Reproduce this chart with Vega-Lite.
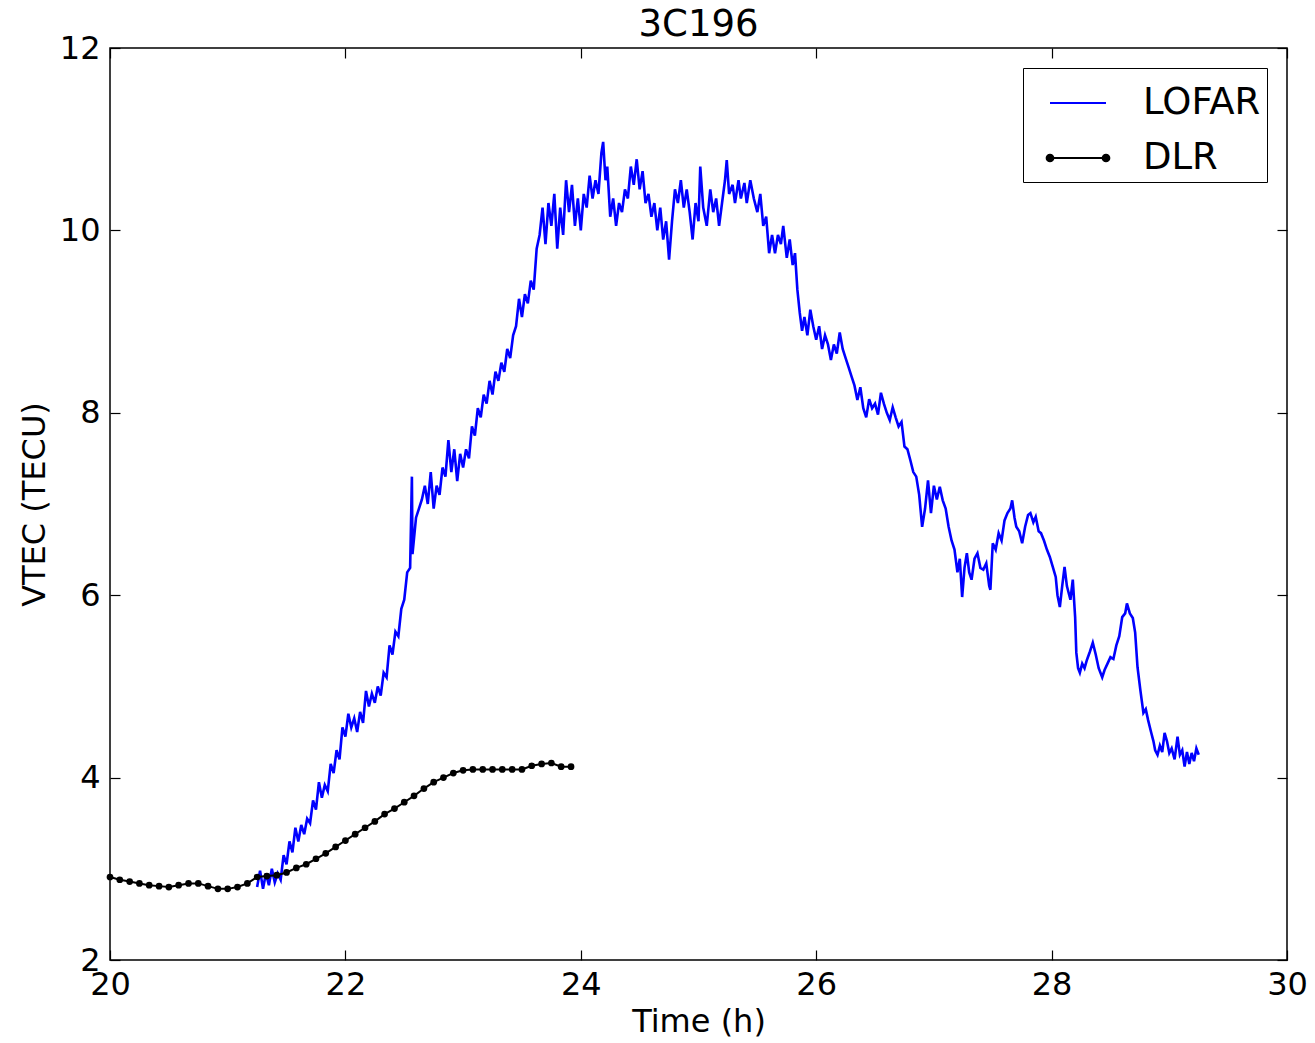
{
  "$schema": "https://vega.github.io/schema/vega-lite/v6.json",
  "width": 1177,
  "height": 912,
  "autosize": {"type": "none"},
  "padding": {"left": 110, "top": 48, "right": 28, "bottom": 83},
  "background": "white",
  "title": {"text": "3C196", "fontSize": 37, "fontWeight": "normal", "font": "DejaVu Sans", "color": "black", "offset": -12},
  "config": {
    "font": "DejaVu Sans",
    "view": {"stroke": "black", "strokeWidth": 1.5},
    "axis": {"domain": false, "grid": false, "tickColor": "black", "tickWidth": 1.2, "labelColor": "black", "titleColor": "black", "labelFontSize": 32, "titleFontSize": 32, "titleFontWeight": "normal", "labelFont": "DejaVu Sans", "titleFont": "DejaVu Sans", "labelFlush": false, "labelOverlap": false},
    "legend": {"orient": "top-right", "offset": 20, "strokeColor": "black", "fillColor": "white", "padding": 6, "symbolType": "stroke", "symbolSize": 3136, "symbolStrokeWidth": 2, "labelFontSize": 37, "labelFont": "DejaVu Sans", "labelColor": "black", "labelOffset": 36, "rowPadding": 8, "symbolOffset": 20, "cornerRadius": 0}
  },
  "datasets": {
    "dlr": [
      {"t": 20.000, "v": 2.91}, {"t": 20.083, "v": 2.88}, {"t": 20.167, "v": 2.86}, {"t": 20.250, "v": 2.84},
      {"t": 20.333, "v": 2.82}, {"t": 20.417, "v": 2.81}, {"t": 20.500, "v": 2.80}, {"t": 20.583, "v": 2.82},
      {"t": 20.667, "v": 2.84}, {"t": 20.750, "v": 2.84}, {"t": 20.833, "v": 2.81}, {"t": 20.917, "v": 2.78},
      {"t": 21.000, "v": 2.78}, {"t": 21.083, "v": 2.80}, {"t": 21.167, "v": 2.84}, {"t": 21.250, "v": 2.91},
      {"t": 21.333, "v": 2.92}, {"t": 21.417, "v": 2.93}, {"t": 21.500, "v": 2.96}, {"t": 21.583, "v": 3.01},
      {"t": 21.667, "v": 3.05}, {"t": 21.750, "v": 3.11}, {"t": 21.833, "v": 3.17}, {"t": 21.917, "v": 3.24},
      {"t": 22.000, "v": 3.31}, {"t": 22.083, "v": 3.38}, {"t": 22.167, "v": 3.45}, {"t": 22.250, "v": 3.52},
      {"t": 22.333, "v": 3.60}, {"t": 22.417, "v": 3.66}, {"t": 22.500, "v": 3.73}, {"t": 22.583, "v": 3.80},
      {"t": 22.667, "v": 3.88}, {"t": 22.750, "v": 3.95}, {"t": 22.833, "v": 4.00}, {"t": 22.917, "v": 4.05},
      {"t": 23.000, "v": 4.08}, {"t": 23.083, "v": 4.09}, {"t": 23.167, "v": 4.09}, {"t": 23.250, "v": 4.09},
      {"t": 23.333, "v": 4.09}, {"t": 23.417, "v": 4.09}, {"t": 23.500, "v": 4.09}, {"t": 23.583, "v": 4.13},
      {"t": 23.667, "v": 4.15}, {"t": 23.750, "v": 4.16}, {"t": 23.833, "v": 4.12}, {"t": 23.917, "v": 4.12}
    ],
    "lofar": [
      {"t":21.25,"v":2.80},{"t":21.275,"v":2.98},{"t":21.30,"v":2.78},{"t":21.325,"v":2.95},{"t":21.35,"v":2.82},{"t":21.375,"v":3.00},{"t":21.40,"v":2.85},{"t":21.425,"v":2.95},{"t":21.45,"v":2.88},{"t":21.475,"v":3.15},
      {"t":21.50,"v":3.05},{"t":21.525,"v":3.30},{"t":21.55,"v":3.18},{"t":21.575,"v":3.45},{"t":21.60,"v":3.30},{"t":21.625,"v":3.48},{"t":21.65,"v":3.38},{"t":21.675,"v":3.55},{"t":21.70,"v":3.50},{"t":21.725,"v":3.75},
      {"t":21.75,"v":3.65},{"t":21.775,"v":3.95},{"t":21.80,"v":3.78},{"t":21.825,"v":3.92},{"t":21.85,"v":3.85},{"t":21.875,"v":4.15},{"t":21.90,"v":4.05},{"t":21.925,"v":4.30},{"t":21.95,"v":4.20},{"t":21.975,"v":4.55},
      {"t":22.00,"v":4.45},{"t":22.025,"v":4.70},{"t":22.05,"v":4.55},{"t":22.075,"v":4.65},{"t":22.10,"v":4.50},{"t":22.125,"v":4.72},{"t":22.15,"v":4.60},{"t":22.175,"v":4.95},{"t":22.20,"v":4.78},{"t":22.225,"v":4.92},
      {"t":22.25,"v":4.82},{"t":22.275,"v":5.00},{"t":22.30,"v":4.90},{"t":22.325,"v":5.15},{"t":22.35,"v":5.10},{"t":22.375,"v":5.45},{"t":22.40,"v":5.35},{"t":22.425,"v":5.60},{"t":22.45,"v":5.55},{"t":22.475,"v":5.85},
      {"t":22.50,"v":5.95},{"t":22.525,"v":6.25},{"t":22.55,"v":6.30},{"t":22.565,"v":7.30},{"t":22.57,"v":6.45},{"t":22.60,"v":6.85},{"t":22.625,"v":6.95},{"t":22.65,"v":7.05},{"t":22.675,"v":7.20},{"t":22.70,"v":7.00},
      {"t":22.725,"v":7.35},{"t":22.75,"v":6.95},{"t":22.775,"v":7.20},{"t":22.80,"v":7.10},{"t":22.825,"v":7.40},{"t":22.85,"v":7.30},{"t":22.875,"v":7.70},{"t":22.90,"v":7.35},{"t":22.925,"v":7.60},{"t":22.95,"v":7.25},
      {"t":22.975,"v":7.55},{"t":23.00,"v":7.40},{"t":23.025,"v":7.60},{"t":23.05,"v":7.50},{"t":23.075,"v":7.85},{"t":23.10,"v":7.75},{"t":23.125,"v":8.05},{"t":23.15,"v":7.95},{"t":23.175,"v":8.20},{"t":23.20,"v":8.10},
      {"t":23.225,"v":8.35},{"t":23.25,"v":8.20},{"t":23.275,"v":8.45},{"t":23.30,"v":8.35},{"t":23.325,"v":8.55},{"t":23.35,"v":8.45},{"t":23.375,"v":8.70},{"t":23.40,"v":8.60},{"t":23.425,"v":8.85},{"t":23.45,"v":8.95},
      {"t":23.475,"v":9.25},{"t":23.50,"v":9.05},{"t":23.525,"v":9.30},{"t":23.55,"v":9.20},{"t":23.575,"v":9.45},{"t":23.60,"v":9.35},{"t":23.625,"v":9.80},{"t":23.65,"v":9.95},{"t":23.675,"v":10.25},{"t":23.70,"v":9.85},
      {"t":23.725,"v":10.30},{"t":23.75,"v":10.05},{"t":23.775,"v":10.40},{"t":23.80,"v":9.80},{"t":23.825,"v":10.25},{"t":23.85,"v":9.95},{"t":23.875,"v":10.55},{"t":23.90,"v":10.20},{"t":23.925,"v":10.50},{"t":23.95,"v":10.05},
      {"t":23.975,"v":10.35},{"t":24.00,"v":10.00},{"t":24.025,"v":10.40},{"t":24.05,"v":10.25},{"t":24.075,"v":10.60},{"t":24.10,"v":10.35},{"t":24.125,"v":10.55},{"t":24.15,"v":10.40},{"t":24.175,"v":10.85},{"t":24.19,"v":10.97},
      {"t":24.21,"v":10.55},{"t":24.225,"v":10.70},{"t":24.25,"v":10.15},{"t":24.275,"v":10.35},{"t":24.30,"v":10.05},{"t":24.325,"v":10.30},{"t":24.35,"v":10.20},{"t":24.375,"v":10.45},{"t":24.40,"v":10.35},{"t":24.425,"v":10.70},
      {"t":24.45,"v":10.50},{"t":24.475,"v":10.78},{"t":24.50,"v":10.45},{"t":24.525,"v":10.65},{"t":24.55,"v":10.30},{"t":24.575,"v":10.40},{"t":24.60,"v":10.15},{"t":24.625,"v":10.30},{"t":24.65,"v":10.00},{"t":24.675,"v":10.25},
      {"t":24.70,"v":9.90},{"t":24.725,"v":10.10},{"t":24.75,"v":9.68},{"t":24.775,"v":10.10},{"t":24.80,"v":10.45},{"t":24.825,"v":10.30},{"t":24.85,"v":10.55},{"t":24.875,"v":10.25},{"t":24.90,"v":10.45},{"t":24.925,"v":10.20},
      {"t":24.95,"v":9.90},{"t":24.975,"v":10.30},{"t":25.00,"v":10.10},{"t":25.015,"v":10.70},{"t":25.04,"v":10.25},{"t":25.07,"v":10.05},{"t":25.10,"v":10.45},{"t":25.125,"v":10.20},{"t":25.15,"v":10.35},{"t":25.175,"v":10.05},
      {"t":25.20,"v":10.30},{"t":25.225,"v":10.55},{"t":25.24,"v":10.77},{"t":25.26,"v":10.40},{"t":25.29,"v":10.50},{"t":25.31,"v":10.30},{"t":25.34,"v":10.55},{"t":25.36,"v":10.35},{"t":25.39,"v":10.52},{"t":25.41,"v":10.30},
      {"t":25.44,"v":10.55},{"t":25.47,"v":10.35},{"t":25.50,"v":10.20},{"t":25.525,"v":10.40},{"t":25.55,"v":10.05},{"t":25.575,"v":10.15},{"t":25.60,"v":9.75},{"t":25.625,"v":9.95},{"t":25.65,"v":9.75},{"t":25.675,"v":9.95},
      {"t":25.70,"v":9.85},{"t":25.72,"v":10.05},{"t":25.75,"v":9.70},{"t":25.775,"v":9.90},{"t":25.80,"v":9.62},{"t":25.82,"v":9.75},{"t":25.84,"v":9.35},{"t":25.86,"v":9.10},{"t":25.88,"v":8.90},{"t":25.90,"v":9.05},
      {"t":25.925,"v":8.85},{"t":25.95,"v":9.13},{"t":25.975,"v":8.95},{"t":26.00,"v":8.80},{"t":26.025,"v":8.95},{"t":26.05,"v":8.70},{"t":26.075,"v":8.85},{"t":26.10,"v":8.75},{"t":26.125,"v":8.58},{"t":26.15,"v":8.75},
      {"t":26.175,"v":8.65},{"t":26.20,"v":8.88},{"t":26.225,"v":8.70},{"t":26.25,"v":8.60},{"t":26.275,"v":8.50},{"t":26.30,"v":8.40},{"t":26.325,"v":8.30},{"t":26.35,"v":8.14},{"t":26.375,"v":8.28},{"t":26.40,"v":8.05},
      {"t":26.425,"v":7.95},{"t":26.45,"v":8.15},{"t":26.475,"v":8.05},{"t":26.50,"v":8.10},{"t":26.525,"v":7.98},{"t":26.55,"v":8.22},{"t":26.575,"v":8.10},{"t":26.60,"v":8.00},{"t":26.625,"v":7.92},{"t":26.65,"v":8.06},
      {"t":26.675,"v":7.95},{"t":26.70,"v":7.85},{"t":26.725,"v":7.90},{"t":26.75,"v":7.63},{"t":26.775,"v":7.60},{"t":26.80,"v":7.48},{"t":26.825,"v":7.35},{"t":26.85,"v":7.30},{"t":26.875,"v":7.10},{"t":26.90,"v":6.75},
      {"t":26.925,"v":6.95},{"t":26.95,"v":7.26},{"t":26.975,"v":6.90},{"t":27.00,"v":7.20},{"t":27.025,"v":7.05},{"t":27.05,"v":7.19},{"t":27.075,"v":7.04},{"t":27.10,"v":6.95},{"t":27.125,"v":6.75},{"t":27.15,"v":6.60},
      {"t":27.175,"v":6.50},{"t":27.20,"v":6.25},{"t":27.22,"v":6.40},{"t":27.24,"v":5.98},{"t":27.26,"v":6.30},{"t":27.28,"v":6.46},{"t":27.30,"v":6.25},{"t":27.32,"v":6.17},{"t":27.345,"v":6.40},{"t":27.37,"v":6.46},
      {"t":27.395,"v":6.30},{"t":27.42,"v":6.28},{"t":27.445,"v":6.35},{"t":27.47,"v":6.10},{"t":27.48,"v":6.06},{"t":27.50,"v":6.57},{"t":27.525,"v":6.50},{"t":27.55,"v":6.68},{"t":27.575,"v":6.60},{"t":27.60,"v":6.82},
      {"t":27.625,"v":6.90},{"t":27.65,"v":6.95},{"t":27.665,"v":7.04},{"t":27.685,"v":6.85},{"t":27.70,"v":6.75},{"t":27.725,"v":6.70},{"t":27.75,"v":6.57},{"t":27.775,"v":6.75},{"t":27.80,"v":6.88},{"t":27.82,"v":6.90},
      {"t":27.845,"v":6.80},{"t":27.865,"v":6.86},{"t":27.89,"v":6.70},{"t":27.91,"v":6.68},{"t":27.935,"v":6.60},{"t":27.96,"v":6.50},{"t":27.985,"v":6.42},{"t":28.01,"v":6.31},{"t":28.035,"v":6.20},{"t":28.05,"v":6.00},
      {"t":28.07,"v":5.87},{"t":28.09,"v":6.10},{"t":28.11,"v":6.31},{"t":28.13,"v":6.10},{"t":28.16,"v":5.95},{"t":28.18,"v":6.17},{"t":28.20,"v":5.76},{"t":28.21,"v":5.37},{"t":28.225,"v":5.20},{"t":28.24,"v":5.15},
      {"t":28.26,"v":5.25},{"t":28.28,"v":5.20},{"t":28.30,"v":5.29},{"t":28.325,"v":5.38},{"t":28.35,"v":5.48},{"t":28.375,"v":5.35},{"t":28.40,"v":5.20},{"t":28.43,"v":5.10},{"t":28.45,"v":5.18},{"t":28.475,"v":5.25},
      {"t":28.50,"v":5.32},{"t":28.525,"v":5.30},{"t":28.55,"v":5.45},{"t":28.575,"v":5.55},{"t":28.60,"v":5.76},{"t":28.625,"v":5.80},{"t":28.64,"v":5.91},{"t":28.665,"v":5.80},{"t":28.69,"v":5.75},{"t":28.71,"v":5.59},
      {"t":28.73,"v":5.21},{"t":28.755,"v":4.95},{"t":28.78,"v":4.71},{"t":28.80,"v":4.75},{"t":28.82,"v":4.63},{"t":28.845,"v":4.50},{"t":28.865,"v":4.40},{"t":28.88,"v":4.30},{"t":28.90,"v":4.25},{"t":28.92,"v":4.35},
      {"t":28.94,"v":4.28},{"t":28.96,"v":4.49},{"t":28.98,"v":4.40},{"t":29.00,"v":4.27},{"t":29.02,"v":4.32},{"t":29.045,"v":4.20},{"t":29.07,"v":4.45},{"t":29.09,"v":4.25},{"t":29.11,"v":4.30},{"t":29.13,"v":4.12},
      {"t":29.15,"v":4.28},{"t":29.17,"v":4.15},{"t":29.19,"v":4.27},{"t":29.21,"v":4.18},{"t":29.23,"v":4.32},{"t":29.25,"v":4.25}
    ]
  },
  "layer": [
    {
      "data": {"name": "lofar"},
      "mark": {"type": "line", "strokeWidth": 2.6, "clip": true},
      "encoding": {
        "x": {"field": "t", "type": "quantitative", "scale": {"domain": [20, 30], "nice": false, "zero": false},
              "axis": {"orient": "bottom", "title": "Time (h)", "values": [20, 22, 24, 26, 28, 30], "tickSize": -10, "labelPadding": 19, "titlePadding": 6}},
        "y": {"field": "v", "type": "quantitative", "scale": {"domain": [2, 12], "nice": false, "zero": false},
              "axis": {"orient": "left", "title": "VTEC (TECU)", "values": [2, 4, 6, 8, 10, 12], "tickSize": -10, "labelPadding": 20, "titlePadding": 8}},
        "color": {"datum": "LOFAR", "type": "nominal", "scale": {"domain": ["LOFAR", "DLR"], "range": ["#0000ff", "#000000"]},
                  "legend": {"title": null, "encode": {"symbols": {"update": {
                    "shape": {"signal": "datum.value === 'DLR' ? 'M-1,0L1,0M-0.88,0a0.12,0.12 0 1,0 -0.24,0a0.12,0.12 0 1,0 0.24,0M1.12,0a0.12,0.12 0 1,0 -0.24,0a0.12,0.12 0 1,0 0.24,0' : 'stroke'"},
                    "fill": {"signal": "datum.value === 'DLR' ? 'black' : 'transparent'"},
                    "fillOpacity": {"value": 1}
                  }}}}}
      }
    },
    {
      "data": {"name": "dlr"},
      "mark": {"type": "line", "strokeWidth": 2, "point": {"filled": true, "size": 45, "color": "black", "opacity": 1}},
      "encoding": {
        "x": {"field": "t", "type": "quantitative", "axis": null},
        "y": {"field": "v", "type": "quantitative", "axis": null},
        "color": {"datum": "DLR", "type": "nominal"}
      }
    },
    {
      "data": {"name": "dlr"},
      "mark": {"type": "line", "opacity": 0},
      "encoding": {
        "x": {"field": "t", "type": "quantitative", "axis": {"orient": "top", "title": null, "labels": false, "values": [20, 22, 24, 26, 28, 30], "tickSize": -10}},
        "y": {"field": "v", "type": "quantitative", "axis": {"orient": "right", "title": null, "labels": false, "values": [2, 4, 6, 8, 10, 12], "tickSize": -10}}
      }
    }
  ],
  "resolve": {"axis": {"x": "independent", "y": "independent"}}
}
